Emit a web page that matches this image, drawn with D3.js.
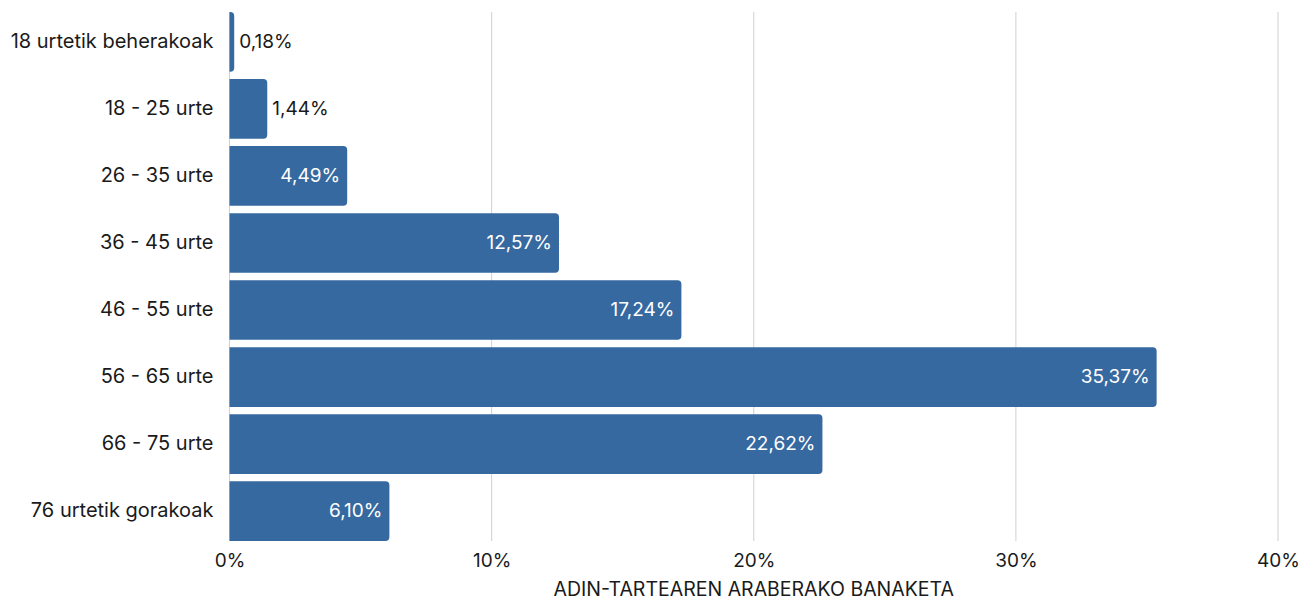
<!DOCTYPE html>
<meta charset="utf-8">
<style>
body { margin: 0; background: #fff; }
text { font-family: Inter, "Noto Sans", sans-serif; }
.grid line { stroke: #d0d0d0; stroke-width: 1; }
</style>
<svg width="1303" height="600"></svg>
<script src="https://cdn.jsdelivr.net/npm/d3@7"></script>
<script>

var categories = ["18 urtetik beherakoak", "18 - 25 urte", "26 - 35 urte", "36 - 45 urte",
                  "46 - 55 urte", "56 - 65 urte", "66 - 75 urte", "76 urtetik gorakoak"];
var values = [0.18, 1.44, 4.49, 12.57, 17.24, 35.37, 22.62, 6.10];
var tickValues = [0, 10, 20, 30, 40];
var axisTitle = "ADIN-TARTEAREN ARABERAKO BANAKETA";

var svg = d3.select("svg"),
    plotLeft = 229.5, plotRight = 1278, plotTop = 12, plotBottom = 541;

var x = d3.scaleLinear()
    .domain([0, 40])
    .range([plotLeft, plotRight]);

var y = d3.scaleBand()
    .domain(categories)
    .range([plotTop, plotBottom])
    .paddingInner(0.11)
    .paddingOuter(0);

var fmt = function(v) { return v.toFixed(2).replace(".", ",") + "%"; };

// grid
svg.append("g")
    .attr("class", "grid")
  .selectAll("line")
  .data(tickValues)
  .enter().append("line")
    .attr("x1", function(d) { return x(d); })
    .attr("x2", function(d) { return x(d); })
    .attr("y1", plotTop)
    .attr("y2", plotBottom);

// bars with rounded right end
var r = 4, bw = y.bandwidth();
function barPath(d, i) {
  var x0 = x(0), x1 = x(values[i]), y0 = y(d), w = x1 - x0, rr = Math.min(r, w);
  return "M" + x0 + "," + y0 +
    "H" + (x1 - rr) +
    "Q" + x1 + "," + y0 + " " + x1 + "," + (y0 + rr) +
    "V" + (y0 + bw - rr) +
    "Q" + x1 + "," + (y0 + bw) + " " + (x1 - rr) + "," + (y0 + bw) +
    "H" + x0 + "Z";
}

svg.append("g")
  .selectAll("path")
  .data(categories)
  .enter().append("path")
    .attr("fill", "#3769a1")
    .attr("d", barPath);

// value labels
svg.append("g")
  .selectAll("text")
  .data(categories)
  .enter().append("text")
    .attr("y", function(d) { return y(d) + bw / 2; })
    .attr("dy", "0.32em")
    .attr("font-size", 19)
    .each(function(d, i) {
      var inside = values[i] > 3;
      d3.select(this)
        .attr("x", inside ? x(values[i]) - 7 : x(values[i]) + 5)
        .attr("text-anchor", inside ? "end" : "start")
        .attr("fill", inside ? "#fff" : "#1a1a1a")
        .text(fmt(values[i]));
    });

// category axis
svg.append("g")
  .selectAll("text")
  .data(categories)
  .enter().append("text")
    .attr("x", plotLeft - 16)
    .attr("y", function(d) { return y(d) + bw / 2; })
    .attr("dy", "0.3em")
    .attr("text-anchor", "end")
    .attr("font-size", 20)
    .attr("fill", "#1a1a1a")
    .text(function(d) { return d; });

// x axis
var xAxis = svg.append("g")
    .attr("transform", "translate(0," + plotBottom + ")")
    .call(d3.axisBottom(x)
      .tickValues(tickValues)
      .tickSize(0)
      .tickPadding(13)
      .tickFormat(function(d) { return d + "%"; }));
xAxis.select(".domain").remove();
xAxis.selectAll("text")
    .attr("font-size", 19)
    .attr("font-family", "Inter, sans-serif")
    .attr("fill", "#1a1a1a");

svg.append("text")
    .attr("x", (plotLeft + plotRight) / 2)
    .attr("y", 596)
    .attr("text-anchor", "middle")
    .attr("font-size", 19.5)
    .attr("fill", "#1a1a1a")
    .text(axisTitle);

</script>
